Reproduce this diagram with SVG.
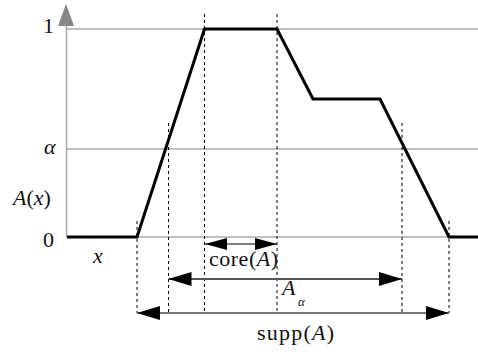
<svg xmlns="http://www.w3.org/2000/svg" width="478" height="355" viewBox="0 0 478 355">
<style>
.grid{stroke:#aaaaaa;stroke-width:1.5;fill:none}
.dash{stroke:#000;stroke-width:1;stroke-dasharray:3 3;fill:none}
.curve{stroke:#000;stroke-width:3;fill:none;stroke-linejoin:miter}
.t{font-family:"Liberation Serif","Times New Roman",serif;font-size:22px;fill:#111}
.i{font-style:italic}
</style>
<defs>
<marker id="ah" viewBox="0 -7 23 14" markerWidth="23" markerHeight="14" refX="23" refY="0" markerUnits="userSpaceOnUse" orient="auto-start-reverse">
<path d="M0,-7 L23,0 L0,7 z" fill="#000"/>
</marker>
<marker id="ahs" viewBox="0 -6 22 12" markerWidth="22" markerHeight="12" refX="22" refY="0" markerUnits="userSpaceOnUse" orient="auto-start-reverse">
<path d="M0,-6 L22,0 L0,6 z" fill="#000"/>
</marker>
</defs>
<g id="axes">
<line class="grid" x1="66.5" y1="26" x2="66.5" y2="237" stroke-width="2"/>
<path d="M58,26 L66,4 L74,26 z" fill="#888888"/>
<line class="grid" x1="66.5" y1="29" x2="478" y2="29"/>
<line class="grid" x1="66.5" y1="149" x2="478" y2="149"/>
<line class="grid" x1="66.5" y1="237" x2="478" y2="237"/>
</g>
<g id="guides">
<line class="dash" x1="137" y1="221" x2="137" y2="313"/>
<line class="dash" x1="168.5" y1="123" x2="168.5" y2="313"/>
<line class="dash" x1="204.5" y1="14" x2="204.5" y2="313"/>
<line class="dash" x1="277" y1="14" x2="277" y2="313"/>
<line class="dash" x1="402" y1="123" x2="402" y2="313"/>
<line class="dash" x1="449" y1="221" x2="449" y2="313"/>
</g>
<g id="membership">
<polyline class="curve" points="67,237 137,237 204.5,29 277,29 313,99 380,99 449,237 478,237"/>
</g>
<g id="connectors">
<line x1="205" y1="244" x2="277" y2="244" stroke="#000" stroke-width="1.2" marker-start="url(#ahs)" marker-end="url(#ahs)"/>
<line x1="168.5" y1="279" x2="402" y2="279" stroke="#555" stroke-width="1.8" marker-start="url(#ah)" marker-end="url(#ah)"/>
<line x1="137" y1="313" x2="449" y2="313" stroke="#777" stroke-width="2" marker-start="url(#ah)" marker-end="url(#ah)"/>
</g>
<g id="labels">
<text class="t" x="43" y="33">1</text>
<text class="t i" x="44" y="154">α</text>
<text class="t" x="13" y="205"><tspan class="i">A</tspan>(<tspan class="i">x</tspan>)</text>
<text class="t" x="43" y="247">0</text>
<text class="t i" x="93" y="263">x</text>
<text class="t" x="209" y="266" textLength="69">core(<tspan class="i">A</tspan>)</text>
<text class="t i" x="282" y="295">A</text>
<text class="t i" x="298" y="306" font-size="13px" style="font-size:13px">α</text>
<text class="t" x="257" y="340" textLength="77">supp(<tspan class="i">A</tspan>)</text>
</g>
</svg>
